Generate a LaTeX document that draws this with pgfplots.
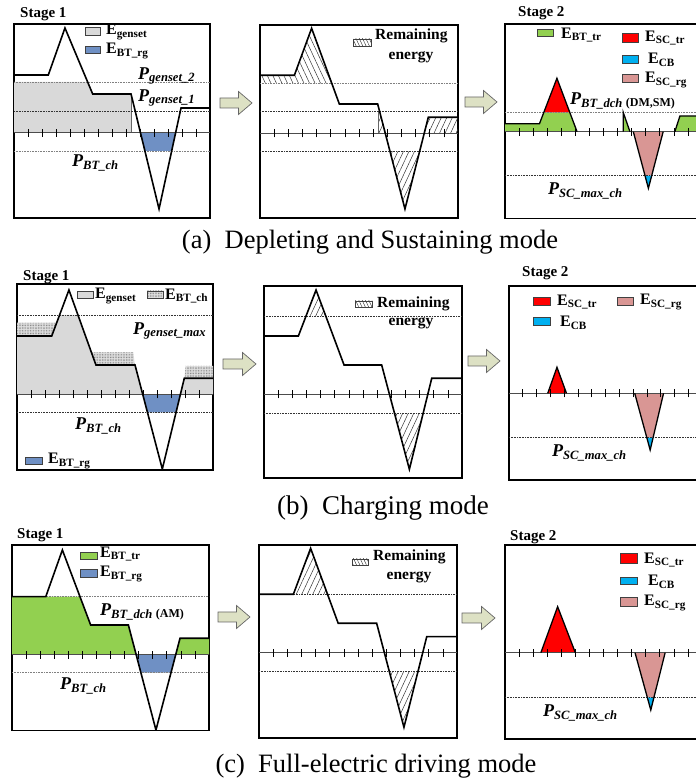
\documentclass[border=0pt]{standalone}
\usepackage{fontspec}
\setmainfont{Liberation Serif}
\usepackage{pgfplots}
\pgfplotsset{compat=1.18}
\usetikzlibrary{patterns.meta}
\definecolor{gfill}{HTML}{D9D9D9}
\definecolor{bfill}{HTML}{6F90C4}
\definecolor{grn}{HTML}{92D050}
\definecolor{rd}{HTML}{FF0000}
\definecolor{cy}{HTML}{00B0F0}
\definecolor{pk}{HTML}{D99694}
\definecolor{arrowfill}{HTML}{DDE1C4}
\pgfplotsset{
  panel/.style={scale only axis, axis line style={line width=1.2pt}, xmin=0, xmax=14,
    xtick=\empty, ytick=\empty, anchor=south west, clip=true},
  curve/.style={line width=1.6pt, black, mark=none},
  ref/.style={densely dotted, line width=0.6pt, black!80, mark=none},
  hatch/.style={draw=none, pattern={Lines[angle=65,distance=5pt,line width=0.5pt]}, pattern color=black!80},
  hatchb/.style={draw=none, pattern={Lines[angle=115,distance=5pt,line width=0.5pt]}, pattern color=black!80},
  dotsp/.style={draw=none, preaction={fill=gray!25}, pattern={Dots[distance=1.6pt,radius=0.35pt]}, pattern color=black!70},
  outl/.style={line width=1.3pt, black, mark=none},
}
\newcommand{\zeroline}{%
  \draw[line width=1pt, black!70] (axis cs:0,0) -- (axis cs:14,0);
  \pgfplotsinvokeforeach{1,...,13}{\draw[line width=0.6pt,black] (axis cs:##1,-4) -- (axis cs:##1,4);}}
\newcommand{\fs}[1]{\fontsize{#1}{#1}\selectfont}
\newcommand{\E}[1]{\fs{16}\textbf{E\textsubscript{#1}}}
\newcommand{\PP}[1]{\fs{18}\textbf{\textit{P\textsubscript{#1}}}}
\newcommand{\arr}[3]{\filldraw[fill=arrowfill, draw=black!60, line width=0.7pt] (#1,#3-5) -- (#2-13.5,#3-5) -- (#2-13.5,#3-11.5) -- (#2,#3) -- (#2-13.5,#3+11.5) -- (#2-13.5,#3+5) -- (#1,#3+5) -- cycle;}
\newcommand{\lbox}[5]{\filldraw[#5, draw=black!75, line width=0.5pt] (#1,#2) rectangle (#3,#4);}
\begin{document}
\begin{tikzpicture}
\useasboundingbox (0,0) rectangle (696pt,780pt);
% ===================== Row (a) =====================
\begin{axis}[panel, at={(14pt,562pt)}, width=196pt, height=194pt, ymin=-85, ymax=109]
\addplot[fill=gfill, draw=none] coordinates {(0,0)(0,51)(5.26,51)(5.62,39)(8.36,39)(8.36,0)} -- cycle;
\addplot[fill=bfill, draw=none] coordinates {(9.04,0)(9.35,-18)(11.26,-18)(11.54,0)} -- cycle;
\addplot[line width=0.6pt, black!60] coordinates {(8.36,0)(8.36,39)};
\addplot[ref, black!50] coordinates {(0,51)(14,51)};
\addplot[ref] coordinates {(0,22)(14,22)};
\addplot[ref, black!50] coordinates {(0,-18)(14,-18)};
\zeroline
\addplot[curve] coordinates {(0,58)(2.45,58)(3.64,105)(5.62,39)(8.36,39)(10.36,-76)(11.93,25)(14,25)};
\end{axis}
\begin{axis}[panel, at={(260pt,562pt)}, width=198pt, height=193pt, ymin=-84.7, ymax=108.3]
\addplot[hatchb] coordinates {(0,50)(0,58)(2.43,58)(3.65,105)(5.07,50)} -- cycle;
\addplot[hatch] coordinates {(8.35,0)(8.35,22)(8.45,22)(8.86,0)} -- cycle;
\addplot[hatch] coordinates {(9.19,-18)(10.25,-75.7)(11.29,-18)} -- cycle;
\addplot[hatch] coordinates {(11.61,0)(11.9,16)(14,16)(14,0)} -- cycle;
\addplot[line width=0.6pt, black!60] coordinates {(8.35,0)(8.35,22)};
\addplot[ref, black!50] coordinates {(0,50)(14,50)};
\addplot[ref] coordinates {(0,22)(14,22)};
\addplot[ref] coordinates {(0,-18)(14,-18)};
\zeroline
\addplot[curve] coordinates {(0,58)(2.43,58)(3.65,105)(5.61,29.3)(8.32,29.3)(10.25,-75.7)(11.9,16)(14,16)};
\end{axis}
\begin{axis}[panel, at={(505pt,561.3pt)}, width=197pt, height=194.7pt, ymin=-87, ymax=107.7]
\addplot[fill=grn, draw=none] coordinates {(0,0)(0,8)(2.45,8)(2.78,19.4)(4.59,19.4)(5.12,0)} -- cycle;
\addplot[fill=rd, draw=none] coordinates {(2.78,19.4)(3.69,53.4)(4.59,19.4)} -- cycle;
\addplot[fill=grn, draw=none] coordinates {(8.4,0)(8.4,19.4)(8.88,0)} -- cycle;
\addplot[fill=pk, draw=none] coordinates {(9.12,0)(9.95,-44)(10.42,-44)(11.24,0)} -- cycle;
\addplot[fill=cy, draw=none] coordinates {(9.95,-44)(10.19,-56.6)(10.42,-44)} -- cycle;
\addplot[fill=grn, draw=none] coordinates {(12.07,0)(12.43,15.7)(14,15.7)(14,0)} -- cycle;
\addplot[ref, black!50] coordinates {(0,19.4)(14,19.4)};
\addplot[ref] coordinates {(0,-44)(14,-44)};
\zeroline
\addplot[outl] coordinates {(0,8)(2.45,8)(3.69,53.4)(5.12,0)};
\addplot[outl] coordinates {(8.4,0)(8.4,19.4)(8.88,0)};
\addplot[outl] coordinates {(9.12,0)(10.19,-56.6)(11.24,0)};
\addplot[outl] coordinates {(12.07,0)(12.43,15.7)(14,15.7)};
\end{axis}
% ===================== Row (b) =====================
\begin{axis}[panel, at={(17pt,310pt)}, width=196pt, height=186pt, ymin=-75.7, ymax=110.3]
\addplot[fill=gfill, draw=none] coordinates {(0,0)(0,58.3)(2.48,58.3)(3.04,79.3)(4.35,79.3)(5.64,29.3)(8.43,29.3)(8.98,0)} -- cycle;
\addplot[fill=gfill, draw=none] coordinates {(11.67,0)(11.95,16)(14,16)(14,0)} -- cycle;
\addplot[dotsp] coordinates {(0,58.3)(0,71.6)(2.83,71.6)(2.48,58.3)} -- cycle;
\addplot[dotsp] coordinates {(5.31,42)(8.3,42)(8.43,29.3)(5.64,29.3)} -- cycle;
\addplot[dotsp] coordinates {(11.95,16)(12.05,28.3)(14,28.3)(14,16)} -- cycle;
\addplot[fill=bfill, draw=none] coordinates {(8.98,0)(9.32,-18)(11.36,-18)(11.67,0)} -- cycle;
\addplot[ref] coordinates {(0,79.3)(14,79.3)};
\addplot[ref] coordinates {(0,-18)(14,-18)};
\zeroline
\addplot[curve] coordinates {(0,58.3)(2.48,58.3)(3.71,104.3)(5.64,29.3)(8.43,29.3)(10.38,-74.7)(11.95,16)(14,16)};
\end{axis}
\begin{axis}[panel, at={(264pt,302pt)}, width=198pt, height=192pt, ymin=-83.7, ymax=108.3]
\addplot[hatch] coordinates {(2.96,77.7)(3.68,104.3)(4.38,77.7)} -- cycle;
\addplot[hatch] coordinates {(9.23,-19)(10.28,-75)(11.25,-19)} -- cycle;
\addplot[ref] coordinates {(0,77.7)(14,77.7)};
\addplot[ref] coordinates {(0,-19)(14,-19)};
\zeroline
\addplot[curve] coordinates {(0,58.3)(2.43,58.3)(3.68,104.3)(5.66,29.3)(8.32,29.3)(10.28,-75)(11.86,16)(14,16)};
\end{axis}
\begin{axis}[panel, at={(509pt,300pt)}, width=193pt, height=194pt, ymin=-86.7, ymax=107.3]
\addplot[fill=rd, draw=none] coordinates {(2.81,0)(3.48,26)(4.17,0)} -- cycle;
\addplot[fill=pk, draw=none] coordinates {(9.12,0)(10.0,-44.3)(10.45,-44.3)(11.21,0)} -- cycle;
\addplot[fill=cy, draw=none] coordinates {(10.0,-44.3)(10.24,-56.7)(10.45,-44.3)} -- cycle;
\addplot[ref] coordinates {(0,-44.3)(14,-44.3)};
\zeroline
\addplot[outl] coordinates {(2.81,0)(3.48,26)(4.17,0)};
\addplot[outl] coordinates {(9.12,0)(10.24,-56.7)(11.21,0)};
\end{axis}
% ===================== Row (c) =====================
\begin{axis}[panel, at={(12pt,49.3pt)}, width=197pt, height=185.7pt, ymin=-75.7, ymax=110]
\addplot[fill=grn, draw=none] coordinates {(0,0)(0,58.3)(4.83,58.3)(5.59,30)(8.27,30)(8.83,0)} -- cycle;
\addplot[fill=grn, draw=none] coordinates {(11.63,0)(11.94,16.7)(14,16.7)(14,0)} -- cycle;
\addplot[fill=bfill, draw=none] coordinates {(8.83,0)(9.16,-17.7)(11.3,-17.7)(11.63,0)} -- cycle;
\addplot[ref, black!50] coordinates {(0,58.3)(14,58.3)};
\addplot[ref, black!50] coordinates {(0,-17.7)(14,-17.7)};
\zeroline
\addplot[curve] coordinates {(0,58.3)(2.4,58.3)(3.58,105)(5.59,30)(8.27,30)(10.23,-75)(11.94,16.7)(14,16.7)};
\end{axis}
\begin{axis}[panel, at={(259pt,42pt)}, width=198pt, height=193pt, ymin=-85.3, ymax=107.7]
\addplot[hatch] coordinates {(2.43,58.4)(3.65,104.4)(4.84,58.4)} -- cycle;
\addplot[hatch] coordinates {(9.22,-19)(10.25,-74.6)(11.24,-19)} -- cycle;
\addplot[ref] coordinates {(0,58.4)(14,58.4)};
\addplot[ref] coordinates {(0,-19)(14,-19)};
\zeroline
\addplot[curve] coordinates {(0,58.4)(2.43,58.4)(3.65,104.4)(5.6,29.4)(8.32,29.4)(10.25,-74.6)(11.86,16)(14,16)};
\end{axis}
\begin{axis}[panel, at={(505pt,41pt)}, width=197pt, height=194pt, ymin=-86.3, ymax=107.7]
\addplot[fill=rd, draw=none] coordinates {(2.55,0)(3.74,46)(5.0,0)} -- cycle;
\addplot[fill=pk, draw=none] coordinates {(9.24,0)(10.11,-44.6)(10.59,-44.6)(11.38,0)} -- cycle;
\addplot[fill=cy, draw=none] coordinates {(10.11,-44.6)(10.36,-57.3)(10.59,-44.6)} -- cycle;
\addplot[ref] coordinates {(0,-44.6)(14,-44.6)};
\zeroline
\addplot[outl] coordinates {(2.55,0)(3.74,46)(5.0,0)};
\addplot[outl] coordinates {(9.24,0)(10.36,-57.3)(11.38,0)};
\end{axis}
% ===================== Texts, legends, arrows =====================
\begin{scope}[shift={(0pt,780pt)}, x=1pt, y=-1pt, every node/.style={inner sep=0pt}]
% row a
\node[anchor=west] at (20,14) {\fs{15}\textbf{Stage 1}};
\lbox{85}{27}{100}{35}{fill=gfill}
\node[anchor=west] at (106,32) {\E{genset}};
\lbox{85}{46}{100}{53}{fill=bfill}
\node[anchor=west] at (106,51) {\E{BT\_rg}};
\node[anchor=west] at (138,76) {\PP{genset\_2}};
\node[anchor=west] at (138,98) {\PP{genset\_1}};
\node[anchor=west] at (72,163) {\PP{BT\_ch}};
\filldraw[draw=black!75, line width=0.5pt, pattern={Lines[angle=115,distance=3pt,line width=0.45pt]}, pattern color=black!80] (353,39) rectangle (371,46);
\node[anchor=west] at (375,36) {\fs{15.5}\textbf{Remaining}};
\node at (411,57) {\fs{15.5}\textbf{energy}};
\node[anchor=west] at (518,13) {\fs{15}\textbf{Stage 2}};
\lbox{537}{29}{553}{36}{fill=grn}
\node[anchor=west] at (561,35) {\E{BT\_tr}};
\lbox{622}{33}{638}{42}{fill=rd}
\node[anchor=west] at (645,38) {\E{SC\_tr}};
\lbox{622}{55}{638}{63}{fill=cy}
\node[anchor=west] at (648,60) {\E{CB}};
\lbox{622}{74}{638}{82}{fill=pk}
\node[anchor=west] at (645,80) {\E{SC\_rg}};
\node[anchor=west] at (570,101) {\PP{BT\_dch}\,\raisebox{-2.5pt}{\fs{12}\textbf{(DM,SM)}}};
\node[anchor=west] at (548,191) {\PP{SC\_max\_ch}};
\arr{220}{252}{103}
\arr{465}{497}{102}
\node at (370,242) {\fs{26.5}(a)\ \ Depleting and Sustaining mode};
% row b
\node[anchor=west] at (23,277) {\fs{15}\textbf{Stage 1}};
\lbox{77}{291}{93}{298}{fill=gfill}
\node[anchor=west] at (95,296) {\E{genset}};
\filldraw[draw=black!75, line width=0.5pt, preaction={fill=gray!25}, pattern={Dots[distance=1.6pt,radius=0.35pt]}, pattern color=black!70] (147,291) rectangle (163,298);
\node[anchor=west] at (165,296) {\E{BT\_ch}};
\lbox{25}{457}{42}{464}{fill=bfill}
\node[anchor=west] at (48,461) {\E{BT\_rg}};
\node[anchor=west] at (133,331) {\PP{genset\_max}};
\node[anchor=west] at (75,426) {\PP{BT\_ch}};
\filldraw[draw=black!75, line width=0.5pt, pattern={Lines[angle=115,distance=3pt,line width=0.45pt]}, pattern color=black!80] (355,301) rectangle (372,307);
\node[anchor=west] at (377,304) {\fs{15.5}\textbf{Remaining}};
\node at (411,323) {\fs{15.5}\textbf{energy}};
\node[anchor=west] at (522,273) {\fs{15}\textbf{Stage 2}};
\lbox{533}{297}{550}{305}{fill=rd}
\node[anchor=west] at (557,302) {\E{SC\_tr}};
\lbox{617}{297}{633}{305}{fill=pk}
\node[anchor=west] at (640,302) {\E{SC\_rg}};
\lbox{533}{317}{550}{325}{fill=cy}
\node[anchor=west] at (560,323) {\E{CB}};
\node[anchor=west] at (552,453) {\PP{SC\_max\_ch}};
\arr{223}{256}{364}
\arr{468}{500}{361}
\node at (383,508) {\fs{27}(b)\ \ Charging mode};
% row c
\node[anchor=west] at (17,535) {\fs{15}\textbf{Stage 1}};
\lbox{80}{552}{97}{559}{fill=grn}
\node[anchor=west] at (100,554) {\E{BT\_tr}};
\lbox{80}{569}{97}{577}{fill=bfill}
\node[anchor=west] at (100,574) {\E{BT\_rg}};
\node[anchor=west] at (100,612) {\PP{BT\_dch}\,\raisebox{-2.5pt}{\fs{12}\textbf{(AM)}}};
\node[anchor=west] at (60,686) {\PP{BT\_ch}};
\filldraw[draw=black!75, line width=0.5pt, pattern={Lines[angle=115,distance=3pt,line width=0.45pt]}, pattern color=black!80] (352,559) rectangle (368,565);
\node[anchor=west] at (373,557) {\fs{15.5}\textbf{Remaining}};
\node at (409,577) {\fs{15.5}\textbf{energy}};
\node[anchor=west] at (510,537) {\fs{15}\textbf{Stage 2}};
\lbox{620}{553}{637}{563}{fill=rd}
\node[anchor=west] at (644,560) {\E{SC\_tr}};
\lbox{620}{577}{637}{584}{fill=cy}
\node[anchor=west] at (648,582) {\E{CB}};
\lbox{620}{597}{637}{606}{fill=pk}
\node[anchor=west] at (644,603) {\E{SC\_rg}};
\node[anchor=west] at (543,713) {\PP{SC\_max\_ch}};
\arr{218}{250}{617}
\arr{462}{495}{618}
\node at (376,766) {\fs{26.5}(c)\ \ Full-electric driving mode};
\end{scope}
\end{tikzpicture}
\end{document}
